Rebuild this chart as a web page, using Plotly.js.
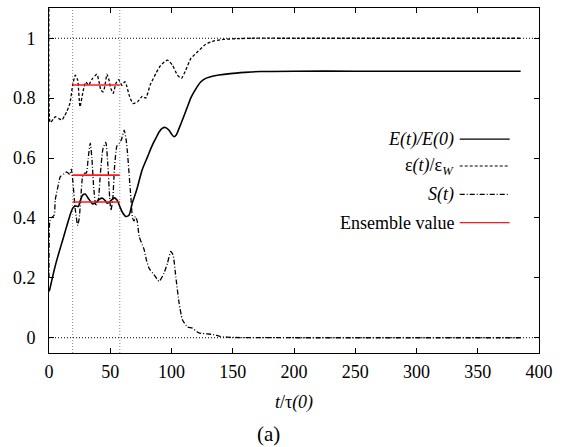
<!DOCTYPE html>
<html>
<head>
<meta charset="utf-8">
<script src="https://cdn.plot.ly/plotly-3.0.1.min.js"></script>
<style>html,body{margin:0;padding:0;background:#fff;}#chart{width:566px;height:447px;}</style>
</head>
<body>
<div id="chart"></div>
<script>
// ---- data ----
const tE = [0, 0.5, 3, 5.1, 7.1, 10, 12.5, 15, 17.9, 19.3, 20.6, 22, 23.9, 26.1, 27.4, 29.6, 32, 35.6, 38.5, 41, 43.7, 46, 47.8, 50.5, 53.2, 55.5, 57.8, 60, 62.7, 65.4, 68, 70.9, 72.3, 76, 80.4, 84, 87.2, 90, 92.6, 95, 98, 100, 102.1, 104, 106.2, 108.9, 113, 115.7, 118.4, 123.8, 127.9, 130.6, 138.7, 148, 160, 172.7, 200, 250, 300, 350, 385];
const energy = [0.155, 0.16, 0.205, 0.24, 0.27, 0.31, 0.345, 0.38, 0.418, 0.432, 0.438, 0.44, 0.438, 0.465, 0.476, 0.48, 0.466, 0.447, 0.452, 0.462, 0.466, 0.457, 0.449, 0.458, 0.467, 0.46, 0.438, 0.418, 0.405, 0.41, 0.45, 0.485, 0.504, 0.56, 0.604, 0.64, 0.666, 0.688, 0.700, 0.702, 0.693, 0.68, 0.671, 0.678, 0.699, 0.727, 0.771, 0.800, 0.821, 0.854, 0.866, 0.870, 0.877, 0.882, 0.886, 0.889, 0.89, 0.89, 0.89, 0.89, 0.89];

const tEps = [0, 0.8, 1.6, 3.5, 5.2, 7.9, 10.6, 12.5, 14.4, 17.1, 19.3, 21.4, 23.4, 25.3, 28, 30.1, 32.3, 34, 35.6, 39.1, 40.8, 42.4, 44.3, 46, 47.3, 49, 50.5, 52.4, 54.6, 56.8, 59.5, 61.9, 63.5, 65.4, 68.5, 72.3, 76.3, 79, 82.5, 87.2, 91.2, 96.7, 100.8, 104.8, 108.1, 111.6, 115.7, 121.1, 127.9, 134.7, 142, 150, 165, 200, 385];
const epsRatio = [1.15, 0.72, 0.72, 0.73, 0.738, 0.732, 0.727, 0.74, 0.754, 0.783, 0.843, 0.877, 0.86, 0.771, 0.827, 0.854, 0.843, 0.855, 0.866, 0.88, 0.855, 0.827, 0.821, 0.85, 0.88, 0.86, 0.832, 0.816, 0.849, 0.862, 0.843, 0.855, 0.84, 0.81, 0.782, 0.788, 0.807, 0.80, 0.843, 0.882, 0.91, 0.927, 0.91, 0.877, 0.866, 0.893, 0.932, 0.954, 0.98, 0.991, 0.996, 0.998, 1.0, 1.0, 1.0];

const tS = [0, 0.7, 2, 4.3, 5.1, 7.9, 9.2, 12.5, 14.4, 17, 18.2, 19.5, 21.4, 23.4, 24.7, 26, 27.4, 28.8, 30.5, 32, 33.7, 35, 36.5, 38.3, 40.2, 42, 44, 46.4, 48, 49.5, 50.5, 52, 53.5, 55.4, 57.3, 59, 61.4, 63, 64.1, 65.5, 66.8, 68.2, 69.5, 70.5, 72, 73.6, 77.6, 79.5, 81.7, 85.8, 89.9, 93.9, 96.7, 99.4, 101.3, 103.5, 106.2, 108.9, 113, 117, 122.4, 129.3, 134.7, 140, 150, 200, 385];
const entropy = [0.2, 0.39, 0.40, 0.41, 0.46, 0.516, 0.538, 0.548, 0.554, 0.545, 0.563, 0.52, 0.43, 0.375, 0.40, 0.47, 0.538, 0.549, 0.55, 0.6, 0.65, 0.6, 0.5, 0.44, 0.46, 0.55, 0.63, 0.652, 0.58, 0.47, 0.425, 0.46, 0.57, 0.64, 0.649, 0.66, 0.693, 0.66, 0.616, 0.54, 0.471, 0.4, 0.39, 0.405, 0.39, 0.338, 0.295, 0.26, 0.232, 0.21, 0.188, 0.216, 0.249, 0.288, 0.277, 0.204, 0.116, 0.06, 0.036, 0.032, 0.016, 0.013, 0.01, 0.004, 0.001, 0, 0];

const ensembleWindow = [19.3, 57.8];
const ensembleE = 0.453;
const ensembleEps = 0.844;
const ensembleS = 0.543;

const xTicks = [0, 50, 100, 150, 200, 250, 300, 350, 400];
const yTicks = [0, 0.2, 0.4, 0.6, 0.8, 1];
const refLevels = [0, 1];

const legendLabels = ['<i>E(t)/E(0)</i>', 'ε<i>(t)</i>/ε<sub><i>W</i></sub>', '<i>S(t)</i>', 'Ensemble value'];

// ---- styles ----
const FONT = '"Liberation Serif"';
const RED = '#ff1a1a';
const styleE = {color: '#000', width: 1.6, dash: 'solid'};
const styleEps = {color: '#000', width: 1.3, dash: '3px,2px'};
const styleS = {color: '#000', width: 1.3, dash: '5px,2px,1px,2px'};
const styleEns = {color: RED, width: 1.6, dash: 'solid'};

const traces = [
  {x: tE, y: energy, mode: 'lines', line: Object.assign({shape: 'spline', smoothing: 0.6}, styleE), showlegend: false, hoverinfo: 'skip'},
  {x: tEps, y: epsRatio, mode: 'lines', line: Object.assign({shape: 'spline', smoothing: 0.5}, styleEps), showlegend: false, hoverinfo: 'skip'},
  {x: tS, y: entropy, mode: 'lines', line: Object.assign({shape: 'spline', smoothing: 0.5}, styleS), showlegend: false, hoverinfo: 'skip'},
  {x: ensembleWindow, y: [ensembleEps, ensembleEps], mode: 'lines', line: styleEns, showlegend: false, hoverinfo: 'skip'},
  {x: ensembleWindow, y: [ensembleS, ensembleS], mode: 'lines', line: styleEns, showlegend: false, hoverinfo: 'skip'},
  {x: ensembleWindow, y: [ensembleE, ensembleE], mode: 'lines', line: styleEns, showlegend: false, hoverinfo: 'skip'}
];

const shapes = [];
ensembleWindow.forEach(function (t) {
  shapes.push({type: 'line', xref: 'x', yref: 'paper', x0: t, x1: t, y0: 0, y1: 1, layer: 'below', line: {color: '#888', width: 1, dash: '1px,2px'}});
});
refLevels.forEach(function (v) {
  shapes.push({type: 'line', xref: 'paper', yref: 'y', x0: 0, x1: 1, y0: v, y1: v, layer: 'below', line: {color: '#000', width: 1, dash: '1px,2px'}});
});

// manual legend: text right-aligned, line sample on the right
const legendY = [0.620, 0.542, 0.460, 0.378];
const legendStyles = [styleE, styleEps, styleS, styleEns];
const annotations = [];
legendLabels.forEach(function (lbl, i) {
  annotations.push({xref: 'paper', yref: 'paper', x: 0.8306, y: legendY[i], xanchor: 'right', yanchor: 'middle', text: lbl, showarrow: false, font: {family: FONT, size: 18, color: '#000'}});
  shapes.push({type: 'line', xref: 'paper', yref: 'paper', x0: 0.8382, x1: 0.9402, y0: legendY[i], y1: legendY[i], line: {color: legendStyles[i].color, width: 1.2, dash: legendStyles[i].dash}});
});
annotations.push({xref: 'paper', yref: 'paper', x: 0.447, y: -0.235, xanchor: 'center', yanchor: 'middle', text: '(a)', showarrow: false, font: {family: FONT, size: 21, color: '#000'}});

const axisCommon = {
  showgrid: false, zeroline: false, showline: true, linecolor: '#000', linewidth: 1,
  ticks: 'inside', ticklen: 5, tickwidth: 1, tickcolor: '#000', mirror: 'allticks',
  tickfont: {family: FONT, size: 18, color: '#000'}
};

const layout = {
  width: 566, height: 447,
  margin: {l: 49, r: 27, t: 8, b: 94},
  paper_bgcolor: '#fff', plot_bgcolor: '#fff',
  font: {family: FONT, size: 18, color: '#000'},
  showlegend: false,
  xaxis: Object.assign({}, axisCommon, {
    range: [0, 400], tickmode: 'array', tickvals: xTicks, ticktext: xTicks.map(String),
    ticklabelstandoff: 2,
    title: {text: '<i>t</i>/τ<i>(0)</i>', font: {family: FONT, size: 18, color: '#000'}, standoff: 14}
  }),
  yaxis: Object.assign({}, axisCommon, {
    range: [-0.051, 1.101], tickmode: 'array', tickvals: yTicks, ticktext: yTicks.map(String),
    ticklabelstandoff: 9
  }),
  shapes: shapes,
  annotations: annotations
};

Plotly.newPlot('chart', traces, layout, {staticPlot: true, displayModeBar: false});
</script>
</body>
</html>
